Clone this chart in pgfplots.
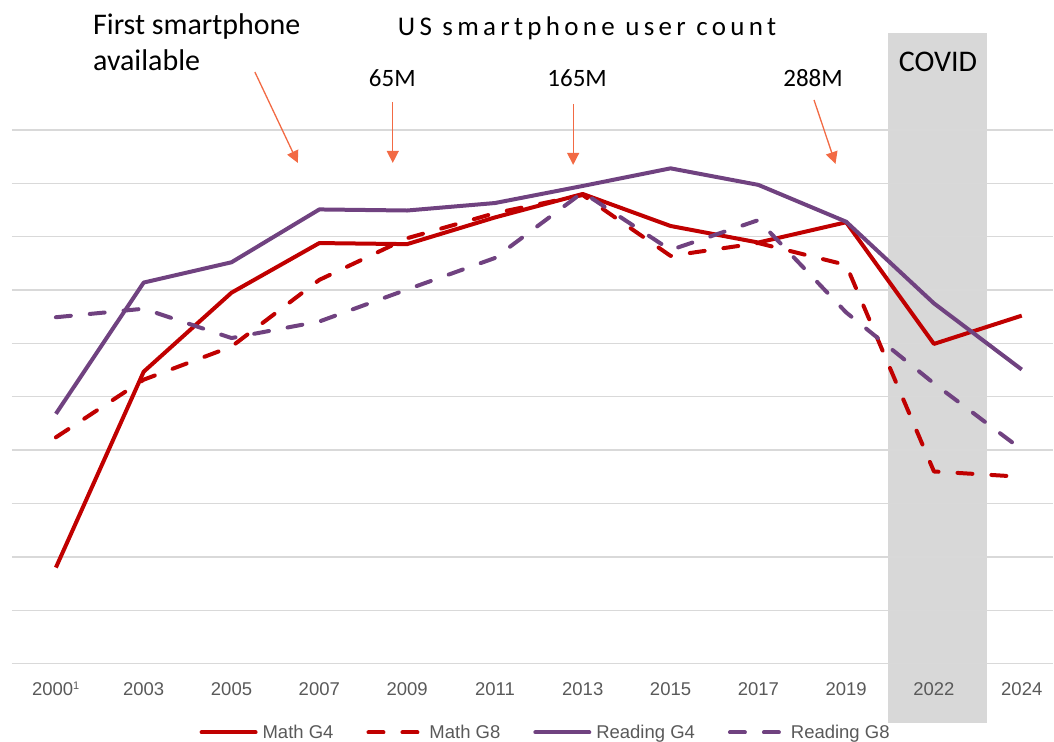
\documentclass[border=0pt]{standalone}
\usepackage{pgfplots}
\pgfplotsset{compat=1.18}
\usepackage{fontspec}
\setmainfont{Carlito}
\newfontfamily\arialf{Liberation Sans}
\usetikzlibrary{arrows.meta}
\definecolor{mred}{RGB}{192,0,0}
\definecolor{rpur}{RGB}{112,66,128}
\definecolor{arr}{RGB}{242,106,68}
\definecolor{shadec}{RGB}{216,216,216}
\definecolor{gridc}{RGB}{217,217,217}
\definecolor{tickc}{RGB}{89,89,89}

\pgfplotstableread{
x mg4 mg8 rg4 rg8
0 1.80 4.24 4.68 6.49
1 5.47 5.32 7.14 6.65
2 6.95 5.94 7.52 6.10
3 7.88 7.19 8.51 6.41
4 7.86 7.97 8.49 7.01
5 8.36 8.44 8.63 7.60
6 8.80 8.78 8.95 8.83
7 8.20 7.64 9.28 7.75
8 7.89 7.88 8.97 8.31
9 8.27 7.47 8.28 6.58
10 5.99 3.60 6.75 5.25
11 6.52 3.50 5.51 4.01
}\scores

\begin{document}
\begin{tikzpicture}
\begin{axis}[
  set layers,
  at={(12pt,-664pt)}, anchor=south west,
  scale only axis, width=1042pt, height=534pt,
  xmin=-0.5, xmax=11.36, ymin=0, ymax=10,
  clip=false,
  axis line style={draw=none},
  major tick length=0pt,
  ytick={0,1,...,10}, yticklabels={},
  ymajorgrids, grid style={gridc, line width=1.3pt},
  xtick={0,1,...,11},
  xticklabels={2000\textsuperscript{\fontsize{11}{11}\selectfont 1},2003,2005,2007,2009,2011,2013,2015,2017,2019,2022,2024},
  xticklabel style={font=\arialf\fontsize{18.5}{20}\selectfont, text=tickc, anchor=base, yshift=-32pt},
  legend columns=4,
  legend image code/.code={\draw[#1, line cap=round] (0pt,0pt) -- (54pt,0pt);},
  legend style={draw=none, fill=none, at={(axis description cs:0.180,-0.129)}, anchor=west,
    font=\arialf\fontsize{18.5}{20}\selectfont, text=tickc,
    /tikz/every even column/.append style={column sep=31pt},
    /tikz/every odd column/.append style={column sep=3pt},
    inner xsep=0pt, inner ysep=0pt},
  every axis plot/.append style={line width=4pt, line join=round},
]
\begin{pgfonlayer}{axis background}
\fill[shadec] (axis cs:9.48,-1.12) rectangle (axis cs:10.6,11.82);
\end{pgfonlayer}
\addplot[mred] table[x=x,y=mg4] {\scores};
\addlegendentry{Math G4}
\addplot[mred, line cap=round, dash pattern=on 15pt off 19pt] table[x=x,y=mg8] {\scores};
\addlegendentry{Math G8}
\addplot[rpur] table[x=x,y=rg4] {\scores};
\addlegendentry{Reading G4}
\addplot[rpur, line cap=round, dash pattern=on 15pt off 19pt] table[x=x,y=rg8] {\scores};
\addlegendentry{Reading G8}
\end{axis}
% annotations (pixel coordinates, y downward)
\node[anchor=base west, inner sep=0pt, font=\fontsize{30}{36}\selectfont] at (93pt,-35pt) {First smartphone};
\node[anchor=base west, inner sep=0pt, font=\fontsize{30}{36}\selectfont] at (93pt,-70.5pt) {available};
\node[anchor=base west, inner sep=0pt, font=\fontsize{27}{30}\selectfont\addfontfeature{LetterSpace=16}] at (398pt,-36pt) {US smartphone user count};
\node[anchor=base, inner sep=0pt, font=\fontsize{25}{30}\selectfont] at (392.5pt,-87pt) {65M};
\node[anchor=base, inner sep=0pt, font=\fontsize{25}{30}\selectfont] at (577.5pt,-87pt) {165M};
\node[anchor=base, inner sep=0pt, font=\fontsize{25}{30}\selectfont] at (813.5pt,-87pt) {288M};
\node[anchor=base, inner sep=0pt, font=\fontsize{30}{36}\selectfont] at (938.5pt,-72pt) {COVID};
\begin{scope}[arr, line width=1.3pt, -{Triangle[length=12pt,width=12pt]}]
\draw (255pt,-72pt) -- (298pt,-163pt);
\draw (393pt,-102pt) -- (393pt,-163pt);
\draw (573.5pt,-104pt) -- (573.5pt,-165pt);
\draw (814.5pt,-100pt) -- (836pt,-164pt);
\end{scope}
\path (0pt,0pt) rectangle (1054pt,-742pt);
\end{tikzpicture}
\end{document}
